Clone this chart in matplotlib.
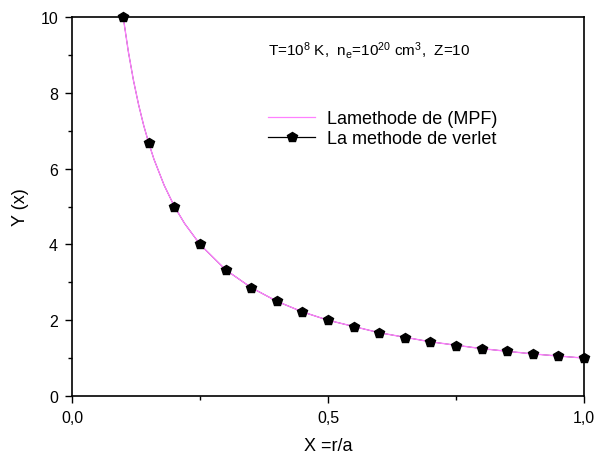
import matplotlib
matplotlib.use("Agg")
import matplotlib.pyplot as plt
from matplotlib.lines import Line2D
from matplotlib.ticker import MultipleLocator, FuncFormatter

plt.rcParams['font.family'] = ['Liberation Sans', 'DejaVu Sans']
plt.rcParams['mathtext.fontset'] = 'custom'
plt.rcParams['mathtext.rm'] = 'Liberation Sans'
plt.rcParams['mathtext.it'] = 'Liberation Sans:italic'

# MPF curve
x_mpf = [0.10, 0.11, 0.12, 0.13, 0.14, 0.15, 0.16, 0.18, 0.20, 0.22, 0.25,
         0.30, 0.35, 0.40, 0.45, 0.50, 0.60, 0.70, 0.80, 0.90, 1.00]
y_mpf = [10.0, 9.09, 8.33, 7.69, 7.14, 6.67, 6.25, 5.56, 5.00, 4.55, 4.00,
         3.33, 2.86, 2.50, 2.22, 2.00, 1.67, 1.43, 1.25, 1.11, 1.00]

# Verlet points
x_ver = [0.10, 0.15, 0.20, 0.25, 0.30, 0.35, 0.40, 0.45, 0.50, 0.55,
         0.60, 0.65, 0.70, 0.75, 0.80, 0.85, 0.90, 0.95, 1.00]
y_ver = [10.0, 6.67, 5.00, 4.00, 3.33, 2.86, 2.50, 2.22, 2.00, 1.82,
         1.67, 1.54, 1.43, 1.33, 1.25, 1.18, 1.11, 1.05, 1.00]

fig = plt.figure(figsize=(5.97, 4.56), dpi=100)
ax = fig.add_axes([72/597, 59/456, 512/597, 379/456])

mag = '#ff80ff'
# black spline line sits under the magenta one, markers on top
ax.plot(x_mpf, y_mpf, color='black', lw=0.6, zorder=1, clip_on=False)
ax.plot(x_mpf, y_mpf, color=mag, lw=1.0, zorder=2, clip_on=False)
ax.plot(x_ver, y_ver, ls='none', marker='p', ms=7.5, color='black', zorder=3, clip_on=False)

ax.set_xlim(0, 1.0)
ax.set_ylim(0, 10)
ax.xaxis.set_major_locator(MultipleLocator(0.5))
ax.xaxis.set_minor_locator(MultipleLocator(0.25))
ax.yaxis.set_major_locator(MultipleLocator(2))
ax.yaxis.set_minor_locator(MultipleLocator(1))
ax.xaxis.set_major_formatter(FuncFormatter(lambda v, p: ('%.1f' % v).replace('.', ',')))
ax.tick_params(which='both', direction='out', top=False, right=False, labelsize=11.5, width=1, pad=5)
ax.tick_params(which='major', length=5)
ax.tick_params(which='minor', length=3)
for s in ax.spines.values():
    s.set_linewidth(1.2)

ax.set_xlabel('X =r/a', fontsize=13, labelpad=9)
ax.set_ylabel('Y (x)', fontsize=13, labelpad=8)

fig.text(268/597, 1 - 50/456, r'T=10$^8$ K,  n$_\mathrm{e}$=10$^{20}$ cm$^3$,  Z=10',
         fontsize=11, va='center', ha='left')

handles = [Line2D([], [], color=mag, lw=0.9),
           Line2D([], [], color='black', lw=0.9, marker='p', ms=7.5)]
fig.legend(handles, ['Lamethode de (MPF)', 'La methode de verlet'],
           loc='upper left', bbox_to_anchor=(252/597, 1 - 95/456),
           frameon=False, fontsize=13, handlelength=2.6, handletextpad=0.65,
           labelspacing=0.15)

fig.savefig('out.png', dpi=100)
